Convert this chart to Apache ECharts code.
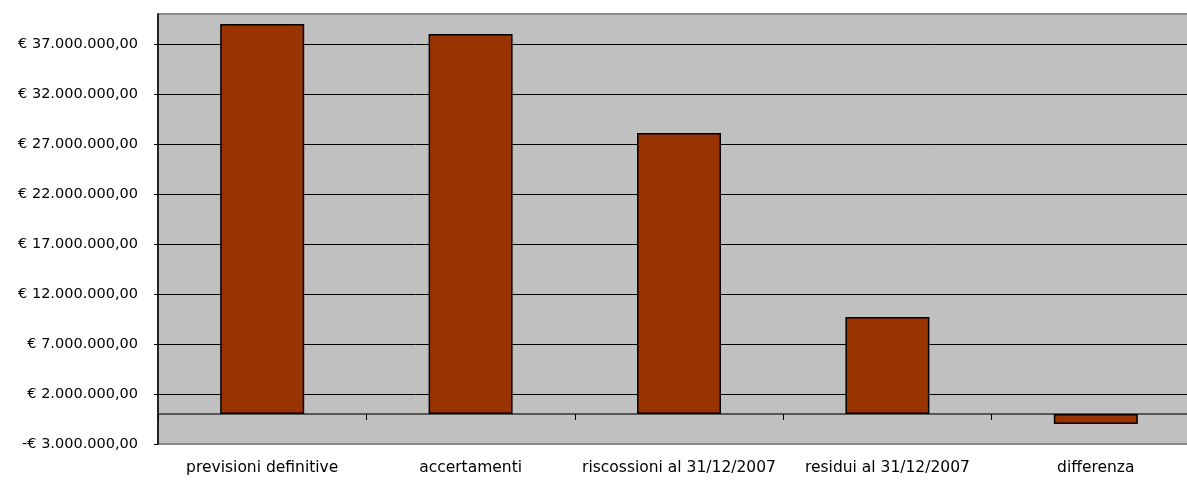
<!DOCTYPE html>
<html>
<head>
<meta charset="utf-8">
<script src="https://cdn.jsdelivr.net/npm/echarts@6/dist/echarts.min.js"></script>
<style>
  html, body { margin: 0; padding: 0; background: #ffffff; }
  #chart { width: 1187px; height: 480px; }
</style>
</head>
<body>
<div id="chart"></div>
<script>
const categories = ['previsioni definitive', 'accertamenti', 'riscossioni al 31/12/2007', 'residui al 31/12/2007', 'differenza'];
const values = [39000000, 38000000, 28100000, 9700000, -1000000];
const tickValues = [-3000000, 2000000, 7000000, 12000000, 17000000, 22000000, 27000000, 32000000, 37000000];
const axisMin = -3000000;
const axisMax = 40000000;

function fmtEuro(v) {
  const neg = v < 0;
  const abs = Math.abs(v);
  const intPart = Math.floor(abs).toString().replace(/\B(?=(\d{3})+(?!\d))/g, '.');
  return (neg ? '-' : '') + '€ ' + intPart + ',00';
}

const chart = echarts.init(document.getElementById('chart'), null, { renderer: 'canvas' });
const FONT = 'DejaVu Sans';

chart.setOption({
  animation: false,
  backgroundColor: '#ffffff',
  grid: {
    left: 158, top: 14, width: 1042, height: 430,
    show: true,
    backgroundColor: '#c0c0c0',
    borderColor: '#8c8c8c',
    borderWidth: 2,
    containLabel: false,
    outerBoundsMode: 'none'
  },
  xAxis: [
    {
      type: 'category',
      data: categories,
      position: 'bottom',
      axisLine: { show: false, onZero: false },
      axisTick: { show: false },
      axisLabel: { interval: 0, margin: 16, color: '#000', fontFamily: FONT, fontSize: 15.5 },
      splitLine: { show: false }
    },
    {
      type: 'category',
      data: categories,
      position: 'top',
      axisLine: { show: true, onZero: true, lineStyle: { color: '#333', width: 1.5 } },
      axisTick: { show: true, inside: true, length: 6, alignWithLabel: false, lineStyle: { color: '#000', width: 1 } },
      axisLabel: { show: false },
      splitLine: { show: false }
    }
  ],
  yAxis: {
    type: 'value',
    min: axisMin,
    max: axisMax,
    axisLine: { show: true, onZero: false, lineStyle: { color: '#000', width: 1.5 } },
    axisTick: { show: true, length: 4, customValues: tickValues, lineStyle: { color: '#000' } },
    axisLabel: {
      customValues: tickValues,
      margin: 20,
      color: '#000',
      fontFamily: FONT,
      fontSize: 14.5,
      formatter: function (v) { return fmtEuro(v); }
    },
    splitLine: { show: false }
  },
  series: [
    {
      type: 'bar',
      xAxisIndex: 0,
      data: values,
      barWidth: 84,
      z: 3,
      itemStyle: { color: '#993300', borderColor: '#000', borderWidth: 1.5 },
      markLine: {
        silent: true,
        symbol: 'none',
        z: 1,
        label: { show: false },
        lineStyle: { color: '#000', width: 1, type: 'solid' },
        data: tickValues.filter(v => v > axisMin).map(v => ({ yAxis: v }))
      }
    }
  ]
});
</script>
</body>
</html>
